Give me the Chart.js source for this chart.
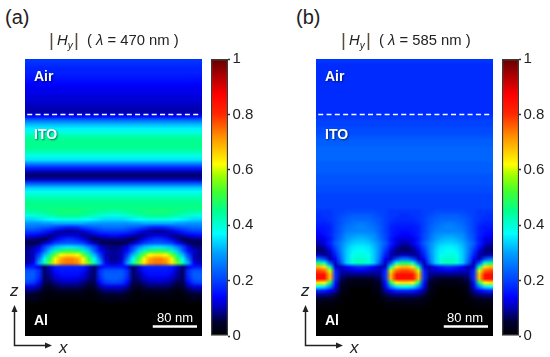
<!DOCTYPE html>
<html>
<head>
<meta charset="utf-8">
<script src="https://cdn.jsdelivr.net/npm/chart.js@4"></script>
<style>
html, body { margin: 0; padding: 0; background: #fff; }
body { width: 550px; height: 357px; position: relative; overflow: hidden; font-family: "Liberation Sans", Arial, sans-serif; color: #222; }
canvas { position: absolute; display: block; }
.heat { transform-origin: 0 0; }
.t { position: absolute; line-height: 1; white-space: nowrap; }
.lab { color: #fff; font-weight: bold; font-size: 14px; text-shadow: 1px 1px 2px rgba(0,0,0,.55); }
.scale { color: #fff; font-size: 13px; }
.panel { font-size: 20px; }
.title { font-size: 14.8px; }
.bar { font-size: 19px; color: #5a4a3a; }
.ax { font-size: 17px; font-style: italic; }
sub { font-size: 10px; line-height: 0; }
</style>
</head>
<body>
<canvas id="heatA" class="heat" width="32" height="70" style="left:25px;top:59px"></canvas>
<canvas id="heatB" class="heat" width="32" height="70" style="left:316px;top:59px"></canvas>
<canvas id="markA" width="177" height="277" style="left:25px;top:59px"></canvas>
<canvas id="markB" width="177" height="277" style="left:316px;top:59px"></canvas>
<canvas id="barA" width="46" height="293" style="left:211px;top:51px"></canvas>
<canvas id="barB" width="46" height="293" style="left:502px;top:51px"></canvas>

<div class="t panel" style="left:5px;top:7px">(a)</div>
<div class="t panel" style="left:296px;top:7px">(b)</div>

<div class="t bar" style="left:49px;top:30px">|</div>
<div class="t title" style="left:57px;top:33px"><i>H<sub>y</sub></i></div>
<div class="t bar" style="left:74px;top:30px">|</div>
<div class="t title" style="left:87px;top:33px">( <i>λ</i> = 470 nm )</div>
<div class="t bar" style="left:341px;top:30px">|</div>
<div class="t title" style="left:349px;top:33px"><i>H<sub>y</sub></i></div>
<div class="t bar" style="left:366px;top:30px">|</div>
<div class="t title" style="left:379px;top:33px">( <i>λ</i> = 585 nm )</div>

<div class="t lab" style="left:34px;top:69px">Air</div>
<div class="t lab" style="left:34px;top:127px">ITO</div>
<div class="t lab" style="left:34px;top:313px">Al</div>
<div class="t scale" style="left:157px;top:311px">80 nm</div>
<div class="t lab" style="left:325px;top:69px">Air</div>
<div class="t lab" style="left:325px;top:127px">ITO</div>
<div class="t lab" style="left:325px;top:313px">Al</div>
<div class="t scale" style="left:447px;top:311px">80 nm</div>

<div class="t ax" style="left:10px;top:282px">z</div>
<div class="t ax" style="left:59px;top:339px">x</div>
<div class="t ax" style="left:301px;top:282px">z</div>
<div class="t ax" style="left:350px;top:339px">x</div>

<svg width="550" height="357" style="position:absolute;left:0;top:0">
  <g fill="none" stroke="#222" stroke-width="1.5">
    <path d="M14.5 310V345.5H48"/>
    <path d="M305.5 310V345.5H339"/>
  </g>
  <g fill="#222">
    <path d="M14.5 305l-3 7h6z"/>
    <path d="M52 345.5l-7 -3v6z"/>
    <path d="M305.5 305l-3 7h6z"/>
    <path d="M343 345.5l-7 -3v6z"/>
  </g>
</svg>

<script>
// field magnitude in hundredths of the colour bar, top row first, 70 rows of 32 columns
// upper rows have no visible x dependence so they are one value per row
const topA = [19,18,17,17,16,15,14,13,13,12,12,11,10,10,15,25,32,36,39,43,45,45,45,42,39,35,26,17,10,7,11,23,33,38,41,44,45,46];
const topB = [19,18,18,18,18,18,18,18,18,18,18,18,18,18,19,20,20,21,21,22,23,23,24,24,24,24,23,23,23,22,22,22,21,21,20,20,20,20];

// rows around the grating
const gridA = [
[43,44,44,45,46,46,47,47,47,47,46,46,45,44,44,43,43,44,44,45,46,46,47,47,47,47,46,46,45,44,44,43],
[39,40,41,42,43,44,45,45,45,45,44,43,42,41,40,39,39,40,41,42,43,44,45,45,45,45,44,43,42,41,40,39],
[34,34,35,36,37,38,39,39,39,39,38,37,36,35,34,34,34,34,35,36,37,38,39,39,39,39,38,37,36,35,34,34],
[29,29,29,30,30,31,31,31,31,31,31,30,30,29,29,29,29,29,29,30,30,31,31,31,31,31,31,30,30,29,29,29],
[25,25,24,23,22,20,18,17,17,18,20,22,23,24,25,25,25,25,24,23,22,20,18,17,17,18,20,22,23,24,25,25],
[20,20,19,17,15,12,10,9,9,10,12,15,17,19,20,20,20,20,19,17,15,12,10,9,9,10,12,15,17,19,20,20],
[15,14,13,11,9,9,11,12,12,11,9,9,11,13,14,15,15,14,13,11,9,9,11,12,12,11,9,9,11,13,14,15],
[8,8,7,6,9,13,16,18,18,16,13,9,6,7,8,8,8,8,7,6,9,13,16,18,18,16,13,9,6,7,8,8],
[6,6,7,11,15,20,22,23,23,22,20,15,11,7,6,6,6,6,7,11,15,20,22,23,23,22,20,15,11,7,6,6],
[8,9,13,20,27,32,34,35,35,34,32,27,20,13,9,8,8,9,13,20,27,32,34,35,35,34,32,27,20,13,9,8],
[9,11,15,24,33,42,48,50,50,48,42,33,24,15,11,9,9,11,15,24,33,42,48,50,50,48,42,33,24,15,11,9],
[9,11,20,32,44,55,62,64,64,62,55,44,32,20,11,9,9,11,20,32,44,55,62,64,64,62,55,44,32,20,11,9],
[9,11,25,38,50,62,70,73,73,70,62,50,38,25,11,9,9,11,25,38,50,62,70,73,73,70,62,50,38,25,11,9],
[10,14,30,42,55,64,72,74,74,72,64,55,42,30,14,10,10,14,30,42,55,64,72,74,74,72,64,55,42,30,14,10],
[16,16,13,7,12,16,17,17,17,17,16,12,7,13,16,16,16,16,13,7,12,16,17,17,17,17,16,12,7,13,16,16],
[22,22,18,7,10,15,16,16,16,16,15,10,7,18,22,22,22,22,18,7,10,15,16,16,16,16,15,10,7,18,22,22],
[23,23,18,7,9,13,15,15,15,15,13,9,7,18,23,23,23,23,18,7,9,13,15,15,15,15,13,9,7,18,23,23],
[23,22,17,7,8,11,12,13,13,12,11,8,7,17,22,23,23,22,17,7,8,11,12,13,13,12,11,8,7,17,22,23],
[20,19,14,6,6,8,10,10,10,10,8,6,6,14,19,20,20,19,14,6,6,8,10,10,10,10,8,6,6,14,19,20],
[12,12,9,5,4,6,7,7,7,7,6,4,5,9,12,12,12,12,9,5,4,6,7,7,7,7,6,4,5,9,12,12],
[8,8,6,3,2,3,4,4,4,4,3,2,3,6,8,8,8,8,6,3,2,3,4,4,4,4,3,2,3,6,8,8],
[5,5,3,2,1,2,2,2,2,2,2,1,2,3,5,5,5,5,3,2,1,2,2,2,2,2,2,1,2,3,5,5],
[3,3,2,1,1,1,1,1,1,1,1,1,1,2,3,3,3,3,2,1,1,1,1,1,1,1,1,1,1,2,3,3],
[1,1,1,0,0,0,0,0,0,0,0,0,0,1,1,1,1,1,1,0,0,0,0,0,0,0,0,0,0,1,1,1]
];
const gridB = [
[19,19,19,20,20,21,21,21,21,21,21,20,20,19,19,19,19,19,19,20,20,21,21,21,21,21,21,20,20,19,19,19],
[18,19,19,20,21,22,23,23,23,23,22,21,20,19,19,18,18,19,19,20,21,22,23,23,23,23,22,21,20,19,19,18],
[18,18,19,20,22,23,24,24,24,24,23,22,20,19,18,18,18,18,19,20,22,23,24,24,24,24,23,22,20,19,18,18],
[17,17,18,20,22,24,25,26,26,25,24,22,20,18,17,17,17,17,18,20,22,24,25,26,26,25,24,22,20,18,17,17],
[16,16,17,20,23,25,26,27,27,26,25,23,20,17,16,16,16,16,17,20,23,25,26,27,27,26,25,23,20,17,16,16],
[15,16,17,20,23,26,27,27,27,27,26,23,20,17,16,15,15,16,17,20,23,26,27,27,27,27,26,23,20,17,16,15],
[14,15,17,21,24,28,29,30,30,29,28,24,21,17,15,14,14,15,17,21,24,28,29,30,30,29,28,24,21,17,15,14],
[12,13,16,21,25,29,31,32,32,31,29,25,21,16,13,12,12,13,16,21,25,29,31,32,32,31,29,25,21,16,13,12],
[10,13,17,23,27,31,33,34,34,33,31,27,23,17,13,10,10,13,17,23,27,31,33,34,34,33,31,27,23,17,13,10],
[8,10,15,21,27,32,35,36,36,35,32,27,21,15,10,8,8,10,15,21,27,32,35,36,36,35,32,27,21,15,10,8],
[7,8,12,19,27,33,36,38,38,36,33,27,19,12,8,7,7,8,12,19,27,33,36,38,38,36,33,27,19,12,8,7],
[11,9,10,17,26,33,38,39,39,38,33,26,17,10,9,11,11,9,10,17,26,33,38,39,39,38,33,26,17,10,9,11],
[25,20,10,14,25,33,39,41,41,39,33,25,14,10,20,25,25,20,10,14,25,33,39,41,41,39,33,25,14,10,20,25],
[47,40,22,10,22,33,40,42,42,40,33,22,10,22,40,47,47,40,22,10,22,33,40,42,42,40,33,22,10,22,40,47],
[68,64,42,12,10,14,16,18,18,16,14,10,12,42,64,68,68,64,42,12,10,14,16,18,18,16,14,10,12,42,64,68],
[78,75,60,17,10,11,12,13,13,12,11,10,17,60,75,78,78,75,60,17,10,11,12,13,13,12,11,10,17,60,75,78],
[85,84,68,18,9,8,8,8,8,8,8,9,18,68,84,85,85,84,68,18,9,8,8,8,8,8,8,9,18,68,84,85],
[85,84,68,18,7,5,4,4,4,4,5,7,18,68,84,85,85,84,68,18,7,5,4,4,4,4,5,7,18,68,84,85],
[64,62,47,15,5,3,2,2,2,2,3,5,15,47,62,64,64,62,47,15,5,3,2,2,2,2,3,5,15,47,62,64],
[38,35,27,13,4,2,1,1,1,1,2,4,13,27,35,38,38,35,27,13,4,2,1,1,1,1,2,4,13,27,35,38],
[18,17,14,9,3,1,0,0,0,0,1,3,9,14,17,18,18,17,14,9,3,1,0,0,0,0,1,3,9,14,17,18],
[9,9,8,6,2,1,0,0,0,0,1,2,6,8,9,9,9,9,8,6,2,1,0,0,0,0,1,2,6,8,9,9],
[5,5,4,3,1,0,0,0,0,0,0,1,3,4,5,5,5,5,4,3,1,0,0,0,0,0,0,1,3,4,5,5],
[2,2,2,1,1,0,0,0,0,0,0,1,1,2,2,2,2,2,2,1,1,0,0,0,0,0,0,1,1,2,2,2],
[1,1,1,1,0,0,0,0,0,0,0,0,1,1,1,1,1,1,1,1,0,0,0,0,0,0,0,0,1,1,1,1]
];

// black rows under the grating
const floorA = [0,0,0,0,0,0,0,0];
const floorB = [0,0,0,0,0,0,0];

const colorStops = [0, 0.05, 0.1, 0.14, 0.2, 0.3, 0.37, 0.45, 0.52, 0.58, 0.62, 0.72, 0.8, 0.87, 0.95, 1];
const colorValues = ['#000000','#000030','#0000b0','#0000ff','#0040ff','#00a0ff','#00ffff','#00ff90','#40ff30','#a0ff00','#ffff00','#ff9000','#ff2800','#ff0000','#a00000','#600000'];
const barTicks = [0, 0.2, 0.4, 0.6, 0.8, 1];

// sizes in nm
const xSpan = 320;
const zSpan = 500;
const dashX = [4, 316];
const dashZ = [400, 400];
const scaleX = [231, 311];
const scaleZ = [17, 17];

function hexToRgb(h) {
    return [parseInt(h.slice(1,3),16), parseInt(h.slice(3,5),16), parseInt(h.slice(5,7),16)];
}

function fieldColor(v) {
    let i = 0;
    while (i < colorStops.length - 2 && v > colorStops[i+1]) i++;
    const f = Math.min(1, (v - colorStops[i]) / (colorStops[i+1] - colorStops[i]));
    const a = hexToRgb(colorValues[i]);
    const b = hexToRgb(colorValues[i+1]);
    return 'rgb(' + a.map((c, k) => Math.round(c + (b[k]-c)*f)).join(',') + ')';
}

function buildCells(top, grid, floor) {
    const cols = grid[0].length;
    const rows = [];
    top.forEach(v => rows.push(new Array(cols).fill(v)));
    grid.forEach(r => rows.push(r));
    floor.forEach(v => rows.push(new Array(cols).fill(v)));
    const cells = [];
    rows.forEach((r, ri) => {
        r.forEach((v, ci) => {
            cells.push({x: (ci + 0.5) * xSpan / cols, y: zSpan - (ri + 0.5) * zSpan / rows.length, v: v / 100});
        });
    });
    return cells;
}

// heatmap is drawn one cell per canvas pixel, then the canvas is stretched so the browser smooths it
function heatChart(id, top, grid, floor) {
    const el = document.getElementById(id);
    new Chart(el.getContext('2d'), {
        type: 'scatter',
        data: {
            datasets: [{
                data: buildCells(top, grid, floor),
                pointStyle: 'rect',
                pointRadius: 0.75,
                pointBorderWidth: 0,
                backgroundColor: c => fieldColor(c.raw ? c.raw.v : 0)
            }]
        },
        options: {
            responsive: false,
            devicePixelRatio: 1,
            animation: false,
            events: [],
            layout: { autoPadding: false, padding: 0 },
            plugins: { legend: { display: false }, tooltip: { enabled: false } },
            scales: {
                x: { type: 'linear', min: 0, max: xSpan, display: false },
                y: { type: 'linear', min: 0, max: zSpan, display: false }
            }
        }
    });
    el.style.transform = 'scale(' + (177/32) + ',' + (277/70) + ')';
}

// dashed ITO line and the scale bar
function markChart(id) {
    new Chart(document.getElementById(id).getContext('2d'), {
        type: 'scatter',
        data: {
            datasets: [{
                data: dashX.map((x, i) => ({x: x, y: dashZ[i]})),
                showLine: true,
                pointRadius: 0,
                borderColor: '#ffffff',
                borderWidth: 1.5,
                borderDash: [5, 3.3]
            }, {
                data: scaleX.map((x, i) => ({x: x, y: scaleZ[i]})),
                showLine: true,
                pointRadius: 0,
                borderColor: '#ffffff',
                borderWidth: 2.5
            }]
        },
        options: {
            responsive: false,
            animation: false,
            events: [],
            layout: { autoPadding: false, padding: 0 },
            plugins: { legend: { display: false }, tooltip: { enabled: false } },
            scales: {
                x: { type: 'linear', min: 0, max: xSpan, display: false },
                y: { type: 'linear', min: 0, max: zSpan, display: false }
            }
        }
    });
}

function barGradient(c) {
    const area = c.chart.chartArea;
    if (!area) return '#000';
    const g = c.chart.ctx.createLinearGradient(0, area.bottom, 0, area.top);
    colorStops.forEach((s, i) => g.addColorStop(s, colorValues[i]));
    return g;
}

function colorBar(id) {
    new Chart(document.getElementById(id).getContext('2d'), {
        type: 'bar',
        data: {
            labels: [''],
            datasets: [{
                data: [[0, 1]],
                backgroundColor: barGradient,
                borderColor: '#3a3a3a',
                borderWidth: 1.5,
                borderSkipped: false,
                barPercentage: 1,
                categoryPercentage: 1
            }]
        },
        options: {
            responsive: false,
            animation: false,
            events: [],
            layout: { autoPadding: false, padding: { top: 8, bottom: 8 } },
            plugins: { legend: { display: false }, tooltip: { enabled: false } },
            scales: {
                x: { display: false },
                y: {
                    position: 'right',
                    min: 0,
                    max: 1,
                    afterFit: s => { s.width = 29; s.paddingTop = 0; s.paddingBottom = 0; },
                    afterBuildTicks: s => { s.ticks = barTicks.map(v => ({value: v})); },
                    border: { display: false },
                    grid: { drawOnChartArea: false, tickLength: 2, tickWidth: 1.5, tickColor: '#333' },
                    ticks: {
                        padding: 2.5,
                        color: '#222',
                        font: { family: '"Liberation Sans", Arial, sans-serif', size: 15 },
                        callback: v => String(v)
                    }
                }
            }
        }
    });
}

heatChart('heatA', topA, gridA, floorA);
heatChart('heatB', topB, gridB, floorB);
markChart('markA');
markChart('markB');
colorBar('barA');
colorBar('barB');
</script>
</body>
</html>
